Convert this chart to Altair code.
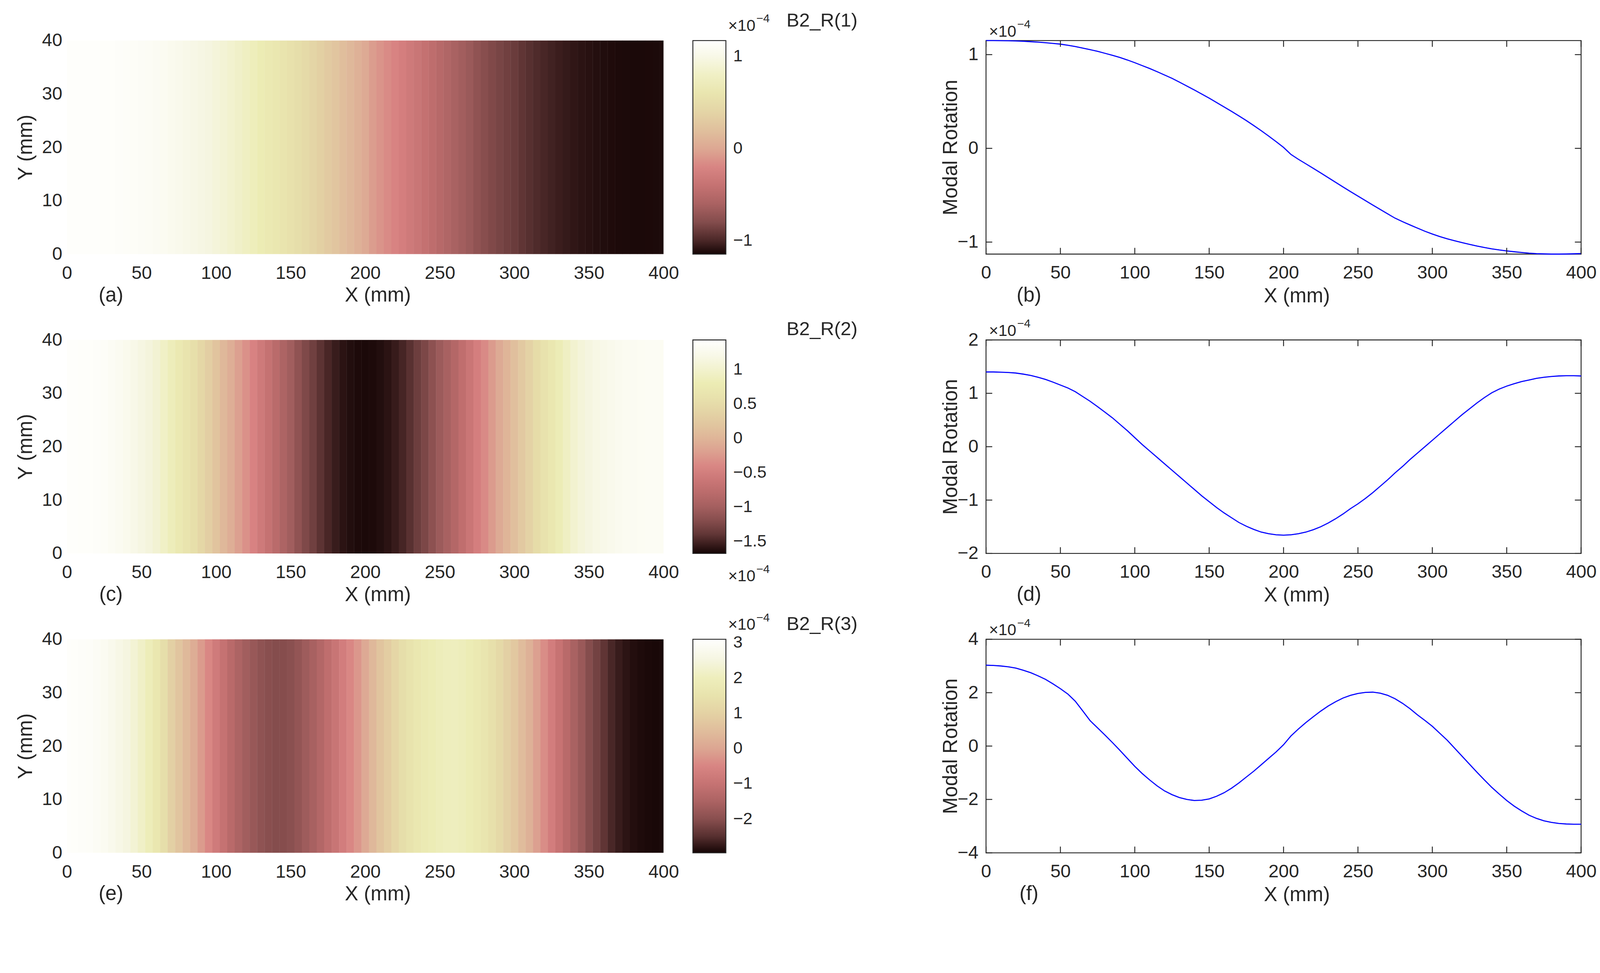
import altair as alt
import pandas as pd

# ---------------- data (values in units of 1e-4) ----------------
X_MM = list(range(0, 401, 5))

MODE1 = [1.150, 1.150, 1.149, 1.148, 1.146, 1.143, 1.138, 1.133, 1.127, 1.120,
         1.112, 1.100, 1.086, 1.070, 1.053, 1.035, 1.014, 0.993, 0.970, 0.943,
         0.914, 0.883, 0.852, 0.818, 0.783, 0.747, 0.707, 0.665, 0.623, 0.580,
         0.536, 0.489, 0.442, 0.395, 0.346, 0.296, 0.243, 0.188, 0.131, 0.072,
         0.010, -0.065, -0.117, -0.165, -0.213, -0.262, -0.312, -0.362, -0.412, -0.461,
         -0.509, -0.557, -0.605, -0.652, -0.699, -0.745, -0.782, -0.817, -0.851, -0.884,
         -0.914, -0.941, -0.965, -0.986, -1.006, -1.024, -1.042, -1.058, -1.072, -1.084,
         -1.094, -1.103, -1.111, -1.118, -1.123, -1.126, -1.128, -1.128, -1.127, -1.125,
         -1.122]

MODE2 = [1.40, 1.40, 1.395, 1.39, 1.38, 1.36, 1.335, 1.30, 1.26, 1.21,
         1.155, 1.10, 1.03, 0.94, 0.85, 0.75, 0.645, 0.54, 0.42, 0.30,
         0.17, 0.04, -0.08, -0.20, -0.32, -0.44, -0.56, -0.68, -0.80, -0.92,
         -1.03, -1.14, -1.24, -1.33, -1.42, -1.49, -1.55, -1.60, -1.63, -1.65,
         -1.657, -1.65, -1.63, -1.60, -1.555, -1.50, -1.43, -1.35, -1.26, -1.16,
         -1.07, -0.97, -0.86, -0.74, -0.62, -0.49, -0.37, -0.24, -0.12, 0.00,
         0.12, 0.24, 0.36, 0.48, 0.60, 0.71, 0.82, 0.92, 1.01, 1.08,
         1.135, 1.18, 1.22, 1.25, 1.28, 1.30, 1.315, 1.325, 1.33, 1.33,
         1.325]

MODE3 = [3.03, 3.02, 3.00, 2.97, 2.92, 2.84, 2.75, 2.63, 2.50, 2.33,
         2.15, 1.95, 1.68, 1.32, 0.95, 0.68, 0.41, 0.13, -0.16, -0.46,
         -0.76, -1.03, -1.27, -1.49, -1.68, -1.82, -1.93, -2.00, -2.04, -2.03,
         -1.98, -1.88, -1.75, -1.58, -1.38, -1.16, -0.94, -0.70, -0.46, -0.22,
         0.05, 0.38, 0.64, 0.88, 1.10, 1.31, 1.50, 1.66, 1.80, 1.90,
         1.97, 2.01, 2.02, 1.98, 1.90, 1.77, 1.60, 1.40, 1.17, 0.96,
         0.74, 0.48, 0.22, -0.08, -0.38, -0.68, -0.98, -1.27, -1.55, -1.80,
         -2.04, -2.25, -2.43, -2.59, -2.71, -2.80, -2.86, -2.90, -2.92, -2.93,
         -2.93]

MODES = [MODE1, MODE2, MODE3]

PLATE_X = [0, 400]
PLATE_Y = [0, 40]
X_TICKS = [0, 50, 100, 150, 200, 250, 300, 350, 400]
Y_TICKS = [0, 10, 20, 30, 40]
LINE_Y_TICKS = [[-1, 0, 1], [-2, -1, 0, 1, 2], [-4, -2, 0, 2, 4]]
LINE_Y_DOMAIN = [[min(MODE1), max(MODE1)], [-2, 2], [-4, 4]]
CBAR_DOMAIN = [[-1.145, 1.17], [-1.679, 1.431], [-2.962, 3.093]]
CBAR_TICKS = [[-1, 0, 1], [-1.5, -1, -0.5, 0, 0.5, 1], [-2, -1, 0, 1, 2, 3]]
PANEL_HEAT = ["(a)", "(c)", "(e)"]
PANEL_LINE = ["(b)", "(d)", "(f)"]
MODE_TITLES = ["B2_R(1)", "B2_R(2)", "B2_R(3)"]
SCALE_BASE = "\u00d710"
SCALE_EXP = "\u22124"
X_TITLE = "X (mm)"
Y_TITLE = "Y (mm)"
LINE_Y_TITLE = "Modal Rotation"

CMAP = ["#150505", "#6a3c3c", "#9e5c5c", "#c06e6e", "#d88282", "#ddaa94",
        "#e1c59f", "#e6dda9", "#ececb4", "#f5f5df", "#fffffe"]

# ---------------- style / layout ----------------
FONT = "Liberation Sans"
INK = "#262626"
HW, LW, H = 1626, 1622, 582
TICK_LEN = 17
TITLE_Y_REL = [-38, -13, -25]
CB_EXP_Y_REL = [-27, 658, -26]


def label(text, x, y, size, align="center"):
    return alt.Chart(pd.DataFrame({"t": [text]})).mark_text(
        font=FONT, fontSize=size, align=align, baseline="alphabetic", color=INK
    ).encode(text="t:N", x=alt.value(x), y=alt.value(y))


def heat(i):
    df = pd.DataFrame({"x": X_MM, "v": MODES[i]})
    xs = alt.Scale(domain=PLATE_X, nice=False, zero=False)
    ys = alt.Scale(domain=PLATE_Y, nice=False, zero=False)
    rect = alt.Chart(df).transform_calculate(
        x1=f"max({PLATE_X[0]}, datum.x - 2.5)",
        x2=f"min({PLATE_X[1]}, datum.x + 2.6)",
        y1=f"{PLATE_Y[0]}",
        y2=f"{PLATE_Y[1]}",
    ).mark_rect().encode(
        x=alt.X("x1:Q", scale=xs, axis=alt.Axis(
            values=X_TICKS, title=X_TITLE, labelPadding=27,
            titleX=847, titleY=129, titleBaseline="alphabetic", titleAlign="center")),
        x2="x2:Q",
        y=alt.Y("y1:Q", scale=ys, axis=alt.Axis(
            values=Y_TICKS, title=Y_TITLE, labelPadding=13,
            titleX=-96, titleY=H / 2, titleAngle=270,
            titleBaseline="alphabetic", titleAlign="center")),
        y2="y2:Q",
        color=alt.Color("v:Q", scale=alt.Scale(domain=CBAR_DOMAIN[i], range=CMAP, interpolate="rgb"),
                        legend=alt.Legend(
                            orient="none", legendX=1706, legendY=0, direction="vertical",
                            gradientLength=H, gradientThickness=90, values=CBAR_TICKS[i],
                            format="~g", title=None, padding=0, labelOffset=20, labelFont=FONT,
                            labelFontSize=46, labelColor=INK, labelOverlap=False,
                            gradientStrokeColor=INK, gradientStrokeWidth=2.5)),
    )
    layers = [rect,
              label(PANEL_HEAT[i], 120, 711, 55),
              label(MODE_TITLES[i], 2058, TITLE_Y_REL[i], 52),
              label(SCALE_BASE, 1802, CB_EXP_Y_REL[i], 44, align="left"),
              label(SCALE_EXP, 1879, CB_EXP_Y_REL[i] - 23, 32, align="left")]
    return alt.layer(*layers).properties(width=HW, height=H)


def line(i):
    df = pd.DataFrame({"x": X_MM, "v": MODES[i]})
    xs = alt.Scale(domain=PLATE_X, nice=False, zero=False)
    ys = alt.Scale(domain=LINE_Y_DOMAIN[i], nice=False, zero=False)
    xaxis = alt.Axis(values=X_TICKS, title=X_TITLE, labelPadding=26,
                     titleX=847, titleY=131, titleBaseline="alphabetic", titleAlign="center")
    yaxis = alt.Axis(values=LINE_Y_TICKS[i], title=LINE_Y_TITLE, labelPadding=21,
                     titleX=-79, titleY=H / 2, titleAngle=270,
                     titleBaseline="alphabetic", titleAlign="center")
    ln = alt.Chart(df).mark_line(color="#0000ff", strokeWidth=3).encode(
        x=alt.X("x:Q", scale=xs, axis=xaxis), y=alt.Y("v:Q", scale=ys, axis=yaxis))
    xt = pd.DataFrame({"t": X_TICKS})
    yt = pd.DataFrame({"t": LINE_Y_TICKS[i]})
    rule = dict(color=INK, strokeWidth=2.5)
    t_top = alt.Chart(xt).mark_rule(**rule).encode(
        x=alt.X("t:Q", scale=xs, axis=xaxis), y=alt.value(0), y2=alt.value(TICK_LEN))
    t_bot = alt.Chart(xt).mark_rule(**rule).encode(
        x=alt.X("t:Q", scale=xs, axis=xaxis), y=alt.value(H - TICK_LEN), y2=alt.value(H))
    t_l = alt.Chart(yt).mark_rule(**rule).encode(
        y=alt.Y("t:Q", scale=ys, axis=yaxis), x=alt.value(0), x2=alt.value(TICK_LEN))
    t_r = alt.Chart(yt).mark_rule(**rule).encode(
        y=alt.Y("t:Q", scale=ys, axis=yaxis), x=alt.value(LW - TICK_LEN), x2=alt.value(LW))
    return alt.layer(
        ln, t_top, t_bot, t_l, t_r,
        label(PANEL_LINE[i], 117, 711, 55),
        label(SCALE_BASE, 8, -11, 44, align="left"),
        label(SCALE_EXP, 85, -34, 32, align="left"),
    ).properties(width=LW, height=H,
                 view=alt.ViewBackground(stroke=INK, strokeWidth=2.5))


panels = []
for i in range(3):
    panels.append(heat(i))
    panels.append(line(i))

chart = (
    alt.concat(*panels, columns=2, spacing=alt.RowColnumber(row=234, column=879), bounds="flush")
    .resolve_scale(x="independent", y="independent", color="independent")
    .resolve_legend(color="independent")
    .properties(autosize=alt.AutoSizeParams(type="none"),
                padding={"left": 174, "top": 22, "right": 4170, "bottom": 2453},
                background="white")
    .configure_view(strokeWidth=0)
    .configure_axis(labelFont=FONT, labelFontSize=50, labelColor=INK,
                    titleFont=FONT, titleFontSize=55, titleFontWeight="normal", titleColor=INK,
                    domain=False, ticks=False, tickSize=0, grid=False,
                    labelFlush=False, labelOverlap=False)
)

chart.save("out.html", embed_options={"renderer": "svg", "actions": False})
